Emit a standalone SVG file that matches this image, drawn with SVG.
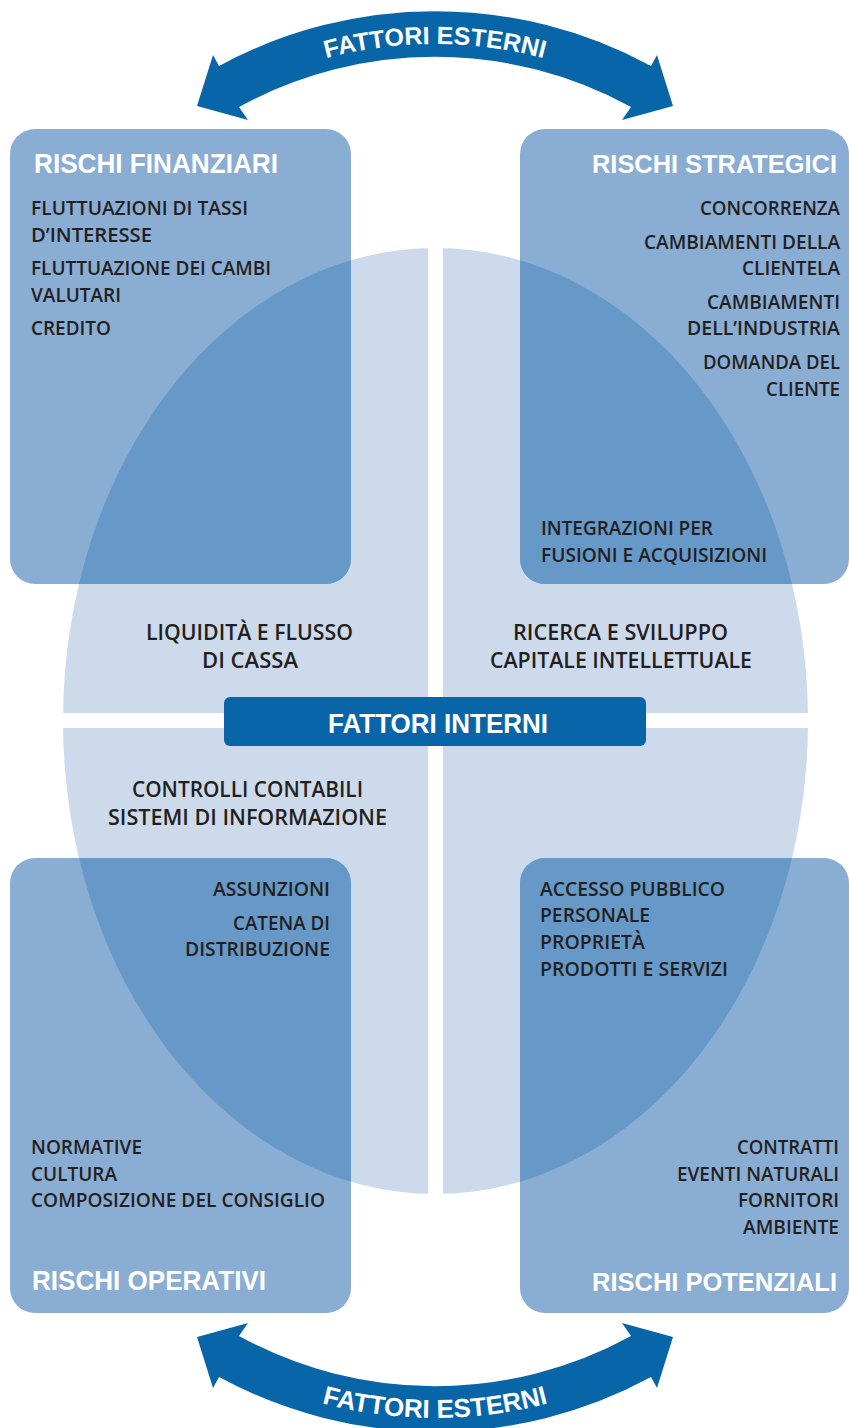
<svg xmlns="http://www.w3.org/2000/svg" xmlns:xlink="http://www.w3.org/1999/xlink" width="849" height="1428" viewBox="0 0 849 1428">
<defs>
<style>
.ell{fill:#CDDAEB}
.box{fill:#8AADD4}
.ov{fill:#6699C8}
.arr{fill:#0866A8}
.t{font-family:"Open Sans","Liberation Sans",sans-serif;font-weight:600;font-size:19px;fill:#231F20}
.m{font-size:22px}
.ti{font-family:"Liberation Sans",Arial,sans-serif;font-weight:700;font-size:28px;fill:#FFFFFF}
.tr{font-size:26px}
.at{font-family:"Liberation Sans",Arial,sans-serif;font-weight:700;fill:#FFFFFF}
</style>
<clipPath id="boxes">
<rect x="10" y="129" width="341" height="455" rx="25"/>
<rect x="520" y="129" width="329" height="455" rx="25"/>
<rect x="10" y="858" width="341" height="455" rx="25"/>
<rect x="520" y="858" width="329" height="455" rx="25"/>
</clipPath>
<path id="arcTop" d="M164.4,142.5 A421,421 0 0 1 705.6,142.5"/>
<path id="arcBot" d="M152.2,1315 A440,440 0 0 0 717.8,1315"/>
</defs>
<rect width="849" height="1428" fill="#FFFFFF"/>

<g id="internal-ellipse">
<ellipse class="ell" cx="435.5" cy="721" rx="372.5" ry="473"/>
<rect x="428" y="240" width="15" height="965" fill="#FFFFFF"/>
<rect x="55" y="713" width="760" height="15" fill="#FFFFFF"/>
</g>

<g id="boxes-bg">
<rect class="box" x="10" y="129" width="341" height="455" rx="25"/>
<rect class="box" x="520" y="129" width="329" height="455" rx="25"/>
<rect class="box" x="10" y="858" width="341" height="455" rx="25"/>
<rect class="box" x="520" y="858" width="329" height="455" rx="25"/>
<ellipse class="ov" cx="435.5" cy="721" rx="372.5" ry="473" clip-path="url(#boxes)"/>
</g>

<g id="rischi-finanziari">
<text class="ti" x="34" y="173" textLength="244" lengthAdjust="spacingAndGlyphs">RISCHI FINANZIARI</text>
<text class="t" x="31" y="215" textLength="217" lengthAdjust="spacingAndGlyphs">FLUTTUAZIONI DI TASSI</text>
<text class="t" x="31" y="242" textLength="121" lengthAdjust="spacingAndGlyphs">D’INTERESSE</text>
<text class="t" x="31" y="275" textLength="240" lengthAdjust="spacingAndGlyphs">FLUTTUAZIONE DEI CAMBI</text>
<text class="t" x="31" y="302" textLength="90" lengthAdjust="spacingAndGlyphs">VALUTARI</text>
<text class="t" x="31" y="335" textLength="80" lengthAdjust="spacingAndGlyphs">CREDITO</text>
</g>

<g id="rischi-strategici">
<text class="ti tr" x="592" y="173" textLength="245" lengthAdjust="spacingAndGlyphs">RISCHI STRATEGICI</text>
<text class="t" x="840" y="215" text-anchor="end" textLength="140" lengthAdjust="spacingAndGlyphs">CONCORRENZA</text>
<text class="t" x="840" y="249" text-anchor="end" textLength="196" lengthAdjust="spacingAndGlyphs">CAMBIAMENTI DELLA</text>
<text class="t" x="840" y="275" text-anchor="end" textLength="98" lengthAdjust="spacingAndGlyphs">CLIENTELA</text>
<text class="t" x="840" y="309" text-anchor="end" textLength="133" lengthAdjust="spacingAndGlyphs">CAMBIAMENTI</text>
<text class="t" x="840" y="335" text-anchor="end" textLength="153" lengthAdjust="spacingAndGlyphs">DELL’INDUSTRIA</text>
<text class="t" x="840" y="369" text-anchor="end" textLength="137" lengthAdjust="spacingAndGlyphs">DOMANDA DEL</text>
<text class="t" x="840" y="396" text-anchor="end" textLength="74" lengthAdjust="spacingAndGlyphs">CLIENTE</text>
<text class="t" x="541" y="535" textLength="172" lengthAdjust="spacingAndGlyphs">INTEGRAZIONI PER</text>
<text class="t" x="541" y="562" textLength="226" lengthAdjust="spacingAndGlyphs">FUSIONI E ACQUISIZIONI</text>
</g>

<g id="fattori-interni-quadranti">
<text class="t m" x="249.5" y="640" text-anchor="middle" textLength="207" lengthAdjust="spacingAndGlyphs">LIQUIDITÀ E FLUSSO</text>
<text class="t m" x="250" y="668" text-anchor="middle" textLength="96" lengthAdjust="spacingAndGlyphs">DI CASSA</text>
<text class="t m" x="620.5" y="640" text-anchor="middle" textLength="215" lengthAdjust="spacingAndGlyphs">RICERCA E SVILUPPO</text>
<text class="t m" x="621" y="668" text-anchor="middle" textLength="262" lengthAdjust="spacingAndGlyphs">CAPITALE INTELLETTUALE</text>
<text class="t m" x="247.5" y="797" text-anchor="middle" textLength="231" lengthAdjust="spacingAndGlyphs">CONTROLLI CONTABILI</text>
<text class="t m" x="247.5" y="825" text-anchor="middle" textLength="279" lengthAdjust="spacingAndGlyphs">SISTEMI DI INFORMAZIONE</text>
</g>

<g id="rischi-operativi">
<text class="t" x="330" y="896" text-anchor="end" textLength="117" lengthAdjust="spacingAndGlyphs">ASSUNZIONI</text>
<text class="t" x="330" y="930" text-anchor="end" textLength="97" lengthAdjust="spacingAndGlyphs">CATENA DI</text>
<text class="t" x="330" y="956" text-anchor="end" textLength="145" lengthAdjust="spacingAndGlyphs">DISTRIBUZIONE</text>
<text class="t" x="31" y="1154" textLength="111" lengthAdjust="spacingAndGlyphs">NORMATIVE</text>
<text class="t" x="31" y="1181" textLength="86" lengthAdjust="spacingAndGlyphs">CULTURA</text>
<text class="t" x="31" y="1207" textLength="294" lengthAdjust="spacingAndGlyphs">COMPOSIZIONE DEL CONSIGLIO</text>
<text class="ti" x="32" y="1290" textLength="234" lengthAdjust="spacingAndGlyphs">RISCHI OPERATIVI</text>
</g>

<g id="rischi-potenziali">
<text class="t" x="540" y="896" textLength="185" lengthAdjust="spacingAndGlyphs">ACCESSO PUBBLICO</text>
<text class="t" x="540" y="922" textLength="110" lengthAdjust="spacingAndGlyphs">PERSONALE</text>
<text class="t" x="540" y="949" textLength="105" lengthAdjust="spacingAndGlyphs">PROPRIETÀ</text>
<text class="t" x="540" y="976" textLength="188" lengthAdjust="spacingAndGlyphs">PRODOTTI E SERVIZI</text>
<text class="t" x="839" y="1154" text-anchor="end" textLength="102" lengthAdjust="spacingAndGlyphs">CONTRATTI</text>
<text class="t" x="839" y="1181" text-anchor="end" textLength="162" lengthAdjust="spacingAndGlyphs">EVENTI NATURALI</text>
<text class="t" x="839" y="1207" text-anchor="end" textLength="101" lengthAdjust="spacingAndGlyphs">FORNITORI</text>
<text class="t" x="839" y="1234" text-anchor="end" textLength="96" lengthAdjust="spacingAndGlyphs">AMBIENTE</text>
<text class="ti tr" x="592" y="1291" textLength="245" lengthAdjust="spacingAndGlyphs">RISCHI POTENZIALI</text>
</g>

<g id="fattori-interni">
<rect class="arr" x="224" y="697" width="422" height="49" rx="6"/>
<text class="ti" x="438" y="733" text-anchor="middle" textLength="220" lengthAdjust="spacingAndGlyphs">FATTORI INTERNI</text>
</g>

<g id="connectors">
<g id="fattori-esterni-top">
<path class="arr" d="M197,106 L213,55 L219,66 A453,453 0 0 1 651,66 L657,55 L673,106 L622,120 L631,107 A408,408 0 0 0 239,107 L248,120 Z"/>
<text class="at" font-size="25"><textPath xlink:href="#arcTop" href="#arcTop" startOffset="50%" text-anchor="middle">FATTORI ESTERNI</textPath></text>
</g>
<g id="fattori-esterni-bottom">
<path class="arr" d="M197,1337 L213,1388 L219,1377 A453,453 0 0 0 651,1377 L657,1388 L673,1337 L622,1323 L631,1336 A408,408 0 0 1 239,1336 L248,1323 Z"/>
<text class="at" font-size="26"><textPath xlink:href="#arcBot" href="#arcBot" startOffset="50%" text-anchor="middle">FATTORI ESTERNI</textPath></text>
</g>
</g>
</svg>
